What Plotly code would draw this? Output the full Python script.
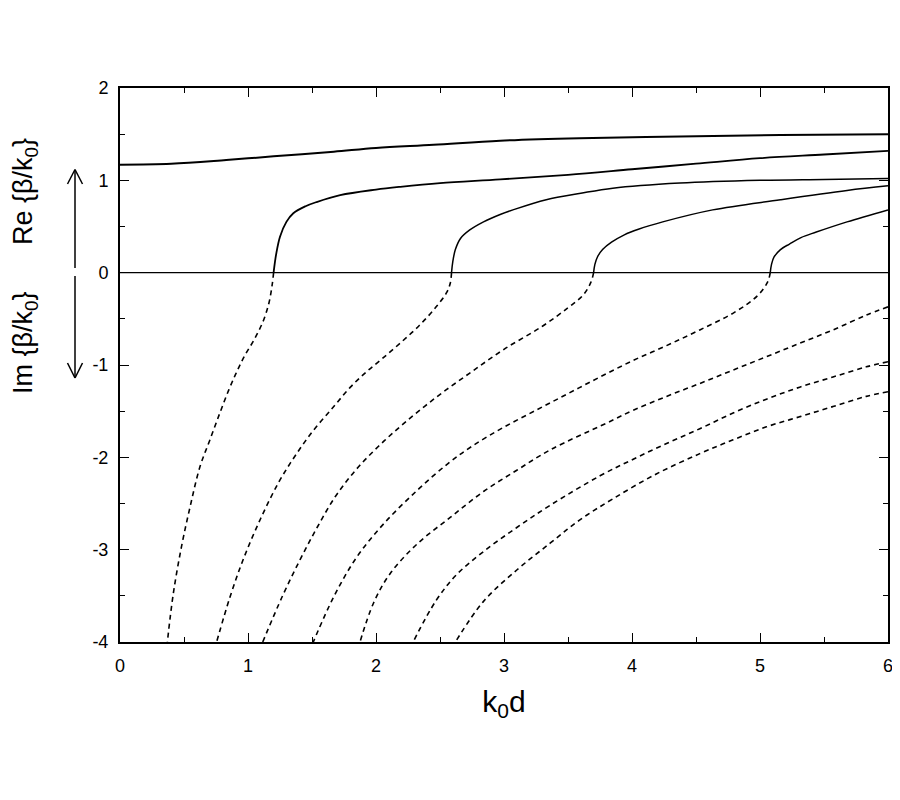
import plotly.graph_objects as go

# ---- data ----
# Real parts (solid)
re0_x = [0, 0.4, 0.83, 1.2, 1.67, 2.0, 2.45, 2.97, 3.59, 4.375, 5.16, 6.0]
re0_y = [1.17, 1.18, 1.22, 1.26, 1.31, 1.35, 1.385, 1.43, 1.457, 1.475, 1.49, 1.50]

re1_x = [1.20, 1.22, 1.25, 1.30, 1.354, 1.45, 1.536, 1.72, 2.0, 2.19, 2.5, 2.97, 3.5, 4.0, 4.5, 5.0, 5.5, 6.0]
re1_y = [0, 0.2, 0.39, 0.55, 0.644, 0.72, 0.765, 0.84, 0.90, 0.93, 0.97, 1.01, 1.06, 1.12, 1.18, 1.24, 1.28, 1.32]

re2_x = [2.59, 2.60, 2.62, 2.66, 2.73, 2.84, 2.97, 3.07, 3.33, 3.6, 3.85, 4.375, 5.0, 5.5, 6.0]
re2_y = [0, 0.12, 0.25, 0.37, 0.46, 0.55, 0.63, 0.68, 0.79, 0.86, 0.915, 0.97, 1.0, 1.01, 1.02]

re3_x = [3.70, 3.71, 3.73, 3.77, 3.84, 3.94, 4.05, 4.24, 4.63, 5.16, 5.68, 6.0]
re3_y = [0, 0.09, 0.17, 0.25, 0.33, 0.41, 0.47, 0.55, 0.68, 0.79, 0.89, 0.94]

re4_x = [5.08, 5.09, 5.11, 5.16, 5.23, 5.32, 5.44, 5.68, 6.0]
re4_y = [0, 0.09, 0.17, 0.25, 0.31, 0.38, 0.44, 0.55, 0.68]

# Imaginary parts (dashed)
im1_x = [1.20, 1.19, 1.165, 1.12, 1.05, 0.97, 0.91, 0.85, 0.78, 0.70, 0.625, 0.547, 0.48, 0.416, 0.37]
im1_y = [0, -0.12, -0.32, -0.52, -0.72, -0.91, -1.08, -1.27, -1.52, -1.82, -2.10, -2.54, -2.97, -3.48, -4.0]

im2_x = [2.59, 2.58, 2.55, 2.47, 2.34, 2.20, 2.05, 1.92, 1.80, 1.67, 1.51, 1.37, 1.24, 1.10, 0.97, 0.86, 0.755]
im2_y = [0, -0.115, -0.22, -0.37, -0.57, -0.75, -0.93, -1.08, -1.24, -1.45, -1.71, -1.98, -2.27, -2.66, -3.08, -3.51, -4.0]

im3_x = [3.70, 3.68, 3.62, 3.50, 3.30, 3.00, 2.73, 2.47, 2.22, 2.02, 1.84, 1.68, 1.54, 1.41, 1.27, 1.115]
im3_y = [0, -0.10, -0.24, -0.38, -0.58, -0.83, -1.09, -1.35, -1.63, -1.88, -2.14, -2.43, -2.76, -3.10, -3.50, -4.0]

im4_x = [5.08, 5.06, 4.98, 4.80, 4.53, 4.27, 4.01, 3.75, 3.50, 3.25, 2.99, 2.75, 2.56, 2.32, 2.06, 1.85, 1.67, 1.51]
im4_y = [0, -0.10, -0.25, -0.43, -0.62, -0.79, -0.95, -1.13, -1.31, -1.49, -1.68, -1.88, -2.07, -2.36, -2.72, -3.08, -3.51, -4.0]

im5_x = [6.0, 5.83, 5.57, 5.31, 5.05, 4.79, 4.53, 4.27, 4.01, 3.80, 3.36, 3.10, 2.84, 2.58, 2.32, 2.11, 1.98, 1.875]
im5_y = [-0.37, -0.46, -0.62, -0.765, -0.91, -1.055, -1.20, -1.34, -1.49, -1.63, -1.92, -2.14, -2.37, -2.65, -2.94, -3.26, -3.58, -4.0]

im6_x = [6.0, 5.83, 5.57, 5.31, 5.05, 4.79, 4.53, 4.27, 4.01, 3.75, 3.36, 3.10, 2.84, 2.63, 2.47, 2.29]
im6_y = [-0.965, -1.02, -1.13, -1.24, -1.37, -1.52, -1.69, -1.85, -2.02, -2.20, -2.52, -2.76, -3.02, -3.27, -3.55, -4.0]

im7_x = [6.0, 5.83, 5.57, 5.31, 5.05, 4.79, 4.53, 4.19, 3.85, 3.59, 3.36, 3.10, 2.84, 2.62]
im7_y = [-1.29, -1.34, -1.45, -1.56, -1.67, -1.81, -1.96, -2.18, -2.45, -2.68, -2.93, -3.22, -3.56, -4.0]

zero_x = [0, 6]
zero_y = [0, 0]

x_ticks = [0, 1, 2, 3, 4, 5, 6]
y_ticks = [-4, -3, -2, -1, 0, 1, 2]

FONT = "Liberation Sans, Arial, sans-serif"

fig = go.Figure()

fig.add_trace(go.Scatter(x=zero_x, y=zero_y, mode="lines",
                         line=dict(color="black", width=1.4)))

solid = [(re0_x, re0_y, 2.0), (re1_x, re1_y, 1.8), (re2_x, re2_y, 1.5),
         (re3_x, re3_y, 1.5), (re4_x, re4_y, 1.5)]
for xs, ys, w in solid:
    fig.add_trace(go.Scatter(x=xs, y=ys, mode="lines",
                             line=dict(color="black", width=w, shape="spline", smoothing=1.0)))

dashed = [(im1_x, im1_y), (im2_x, im2_y), (im3_x, im3_y), (im4_x, im4_y),
          (im5_x, im5_y), (im6_x, im6_y), (im7_x, im7_y)]
for xs, ys in dashed:
    fig.add_trace(go.Scatter(x=xs, y=ys, mode="lines",
                             line=dict(color="black", width=1.6, dash="5px,4px",
                                       shape="spline", smoothing=1.0)))

# page has an 8px body margin; figure sized so it fits the 900x800 window
OFF = 8
W, H = 892, 784
# plot area in screenshot pixels: x 120..888, y 88..642
L = 120 - OFF
T = 88 - OFF
R = W - (888 - OFF)
B = H - (642 - OFF)
pw, ph = W - L - R, H - T - B

def px(xs):
    return (xs - OFF - L) / pw

def py(ys):
    return (H - B - (ys - OFF)) / ph

shapes = []
ax = 75
lw = dict(color="black", width=1.5)
# up arrow
shapes.append(dict(type="line", xref="paper", yref="paper", x0=px(ax), x1=px(ax),
                   y0=py(268), y1=py(170), line=lw))
shapes.append(dict(type="line", xref="paper", yref="paper", x0=px(ax), x1=px(ax - 7.5),
                   y0=py(169.5), y1=py(184), line=lw))
shapes.append(dict(type="line", xref="paper", yref="paper", x0=px(ax), x1=px(ax + 7.5),
                   y0=py(169.5), y1=py(184), line=lw))
# down arrow
shapes.append(dict(type="line", xref="paper", yref="paper", x0=px(ax), x1=px(ax),
                   y0=py(276), y1=py(377), line=lw))
shapes.append(dict(type="line", xref="paper", yref="paper", x0=px(ax), x1=px(ax - 7.5),
                   y0=py(378), y1=py(363), line=lw))
shapes.append(dict(type="line", xref="paper", yref="paper", x0=px(ax), x1=px(ax + 7.5),
                   y0=py(378), y1=py(363), line=lw))

annotations = [
    dict(text="Re {β/k<sub>0</sub>}", xref="paper", yref="paper", x=px(25), y=py(192),
         showarrow=False, textangle=-90, font=dict(family=FONT, size=27, color="black"),
         xanchor="center", yanchor="middle"),
    dict(text="Im {β/k<sub>0</sub>}", xref="paper", yref="paper", x=px(25), y=py(343),
         showarrow=False, textangle=-90, font=dict(family=FONT, size=27, color="black"),
         xanchor="center", yanchor="middle"),
]

fig.update_layout(
    width=W, height=H,
    margin=dict(l=L, r=R, t=T, b=B, autoexpand=False),
    paper_bgcolor="white", plot_bgcolor="white",
    showlegend=False,
    shapes=shapes, annotations=annotations,
    font=dict(family=FONT, color="black"),
)

fig.update_xaxes(
    range=[0, 6], tickvals=x_ticks, ticktext=[str(v) for v in x_ticks],
    showgrid=False, zeroline=False,
    showline=True, linecolor="black", linewidth=2, mirror="ticks",
    ticks="inside", ticklen=9, tickwidth=1.3, tickcolor="black",
    minor=dict(dtick=0.5, tick0=0, ticks="inside", ticklen=5, tickwidth=1, tickcolor="black"),
    tickfont=dict(family=FONT, size=18, color="black"),
    ticklabelstandoff=6,
    title=dict(text="k<sub>0</sub>d", font=dict(family=FONT, size=30, color="black"), standoff=16),
)
fig.update_yaxes(
    range=[-4, 2], tickvals=y_ticks, ticktext=[str(v) for v in y_ticks],
    showgrid=False, zeroline=False,
    showline=True, linecolor="black", linewidth=2, mirror="ticks",
    ticks="inside", ticklen=9, tickwidth=1.3, tickcolor="black",
    minor=dict(dtick=0.5, tick0=0, ticks="inside", ticklen=5, tickwidth=1, tickcolor="black"),
    tickfont=dict(family=FONT, size=18, color="black"),
    ticklabelstandoff=6,
)

fig.write_html("out.html")
